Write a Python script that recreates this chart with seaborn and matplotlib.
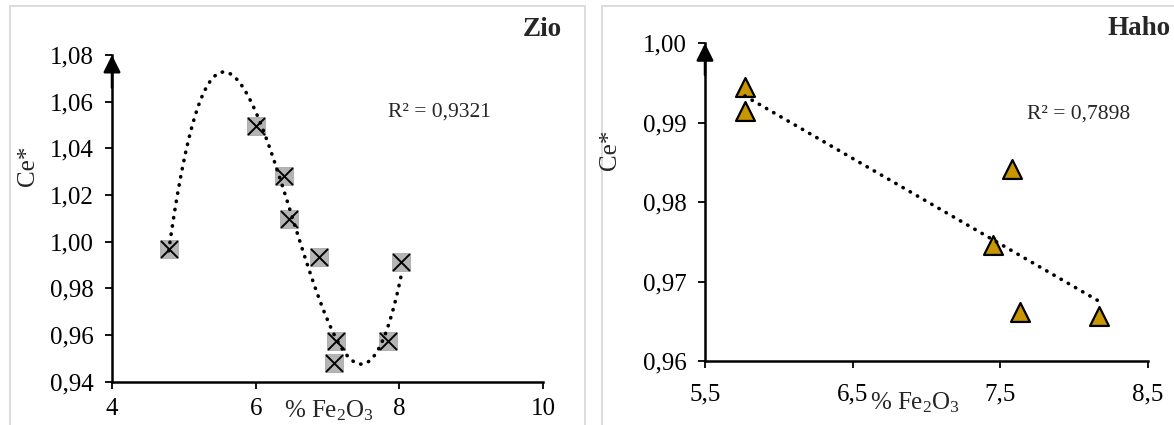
import matplotlib
matplotlib.use("Agg")
import matplotlib.pyplot as plt
import seaborn as sns
from matplotlib.patches import Rectangle

# Zio: % Fe2O3 vs Ce*
zio_fe2o3 = [4.79, 6.00, 6.40, 6.47, 6.88, 7.12, 7.09, 7.84, 8.03]
zio_ce = [0.9968, 1.0496, 1.0281, 1.0097, 0.9933, 0.9574, 0.9479, 0.9575, 0.9914]
zio_r2 = "R² = 0,9321"
zio_xticks = [4, 6, 8, 10]
zio_yticks = [0.94, 0.96, 0.98, 1.00, 1.02, 1.04, 1.06, 1.08]

# Haho: % Fe2O3 vs Ce*
haho_fe2o3 = [5.77, 5.77, 7.45, 7.58, 7.63, 8.17]
haho_ce = [0.9945, 0.9915, 0.9746, 0.9842, 0.9662, 0.9657]
haho_r2 = "R² = 0,7898"
haho_xticks = [5.5, 6.5, 7.5, 8.5]
haho_yticks = [0.96, 0.97, 0.98, 0.99, 1.00]

W, H = 1174, 425
FS = 18


def configure_aesthetics():
    sns.set_theme(style="ticks")
    plt.rcParams['font.family'] = ['Liberation Serif', 'DejaVu Serif']
    plt.rcParams['mathtext.fontset'] = 'custom'
    plt.rcParams['mathtext.rm'] = 'Liberation Serif'
    plt.rcParams['mathtext.it'] = 'Liberation Serif:italic'
    plt.rcParams['mathtext.bf'] = 'Liberation Serif:bold'


def px_axes(fig, x0, y0, x1, y1):
    return fig.add_axes([x0 / W, 1 - y1 / H, (x1 - x0) / W, (y1 - y0) / H])


def comma(v, digits):
    return f"{v:.{digits}f}".replace('.', ',')


def style_axes(ax, xticks, yticks, xdig, ydig, xpad):
    sns.despine(ax=ax)
    for s in ['left', 'bottom']:
        ax.spines[s].set_linewidth(1.8)
        ax.spines[s].set_color('black')
    ax.set_xticks(xticks)
    ax.set_yticks(yticks)
    ax.set_xticklabels([comma(v, xdig) for v in xticks])
    ax.set_yticklabels([comma(v, ydig) for v in yticks])
    ax.set_xlim(xticks[0], xticks[-1])
    ax.set_ylim(yticks[0], yticks[-1])
    ax.tick_params(direction='out', length=5, width=1.3, colors='black',
                   labelsize=FS, left=True, bottom=True)
    ax.tick_params(axis='y', pad=8)
    ax.tick_params(axis='x', pad=xpad)
    ax.set_xlabel('')
    ax.set_ylabel('')
    ax.set_facecolor('none')
    # arrow head on top of the y axis
    ax.annotate('', xy=(0, 1), xycoords='axes fraction', xytext=(0, 0.9),
                arrowprops=dict(arrowstyle='-|>', color='black', lw=1.8,
                                shrinkA=0, shrinkB=0, mutation_scale=26),
                annotation_clip=False)


configure_aesthetics()
fig = plt.figure(figsize=(W / 100, H / 100), dpi=100)

# light grey panel frames
fig.patches.append(Rectangle((10 / W, -0.1), 575 / W, 1.1 - 6 / H, transform=fig.transFigure,
                             fill=False, edgecolor='#d9d9d9', lw=1.3))
fig.patches.append(Rectangle((602 / W, -0.1), 600 / W, 1.1 - 6 / H, transform=fig.transFigure,
                             fill=False, edgecolor='#d9d9d9', lw=1.3))

dotted = dict(color='black', lw=2.6, ls=(0, (0.1, 2.2)), dash_capstyle='round', zorder=5)

# ---- Zio ----
ax1 = px_axes(fig, 112, 55, 543, 381.7)
sns.regplot(x=zio_fe2o3, y=zio_ce, order=3, ci=None, scatter=False, truncate=True,
            line_kws=dotted, ax=ax1)
sns.scatterplot(x=zio_fe2o3, y=zio_ce, marker='s', s=165, color='#b4b4b4',
                edgecolor='#a0a0a0', linewidth=0.5, ax=ax1, zorder=3)
sns.scatterplot(x=zio_fe2o3, y=zio_ce, marker='x', s=150, color='black',
                linewidth=1.4, ax=ax1, zorder=4)
style_axes(ax1, zio_xticks, zio_yticks, 0, 2, 7)
ax1.text(0.64, 0.813, zio_r2, transform=ax1.transAxes, fontsize=15.5, va='baseline')

# ---- Haho ----
ax2 = px_axes(fig, 705, 43.3, 1148, 361)
sns.regplot(x=haho_fe2o3, y=haho_ce, order=1, ci=None, scatter=False, truncate=True,
            line_kws=dotted, ax=ax2)
sns.scatterplot(x=haho_fe2o3, y=haho_ce, marker='^', s=185, color='#c89600',
                edgecolor='black', linewidth=1.6, ax=ax2, zorder=3)
style_axes(ax2, haho_xticks, haho_yticks, 1, 2, 11)
ax2.text(0.726, 0.762, haho_r2, transform=ax2.transAxes, fontsize=15.5, va='baseline')

# labels
fig.text(28 / W, 1 - 166 / H, 'Ce*', rotation=90, ha='center', va='center', fontsize=FS)
fig.text(610 / W, 1 - 150 / H, 'Ce*', rotation=90, ha='center', va='center', fontsize=FS)
fig.text(284 / W, 1 - 417 / H, '% Fe$_2$O$_3$', ha='left', va='baseline', fontsize=FS)
fig.text(915 / W, 1 - 409 / H, '% Fe$_2$O$_3$', ha='center', va='baseline', fontsize=FS)
fig.text(561.7 / W, 1 - 36 / H, 'Zio', ha='right', va='baseline', fontsize=19.5, fontweight='bold')
fig.text(1171 / W, 1 - 35 / H, 'Haho', ha='right', va='baseline', fontsize=19.5, fontweight='bold')

fig.savefig('out.png', dpi=100)
